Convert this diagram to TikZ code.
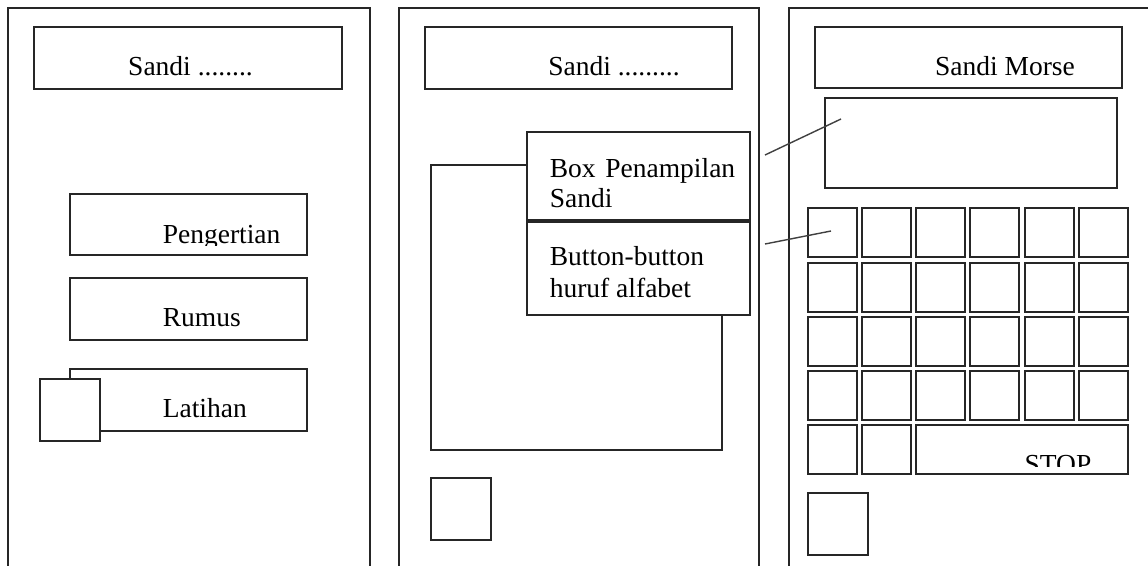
\documentclass[tikz,border=0pt]{standalone}
\usepackage{fontspec}
\setmainfont{Liberation Serif}
\usetikzlibrary{fit}
\begin{document}
\begin{tikzpicture}[x=1pt,y=-1pt,line width=1.6pt,
  frame/.style={draw=black!85},
  box/.style={draw=black!85,fill=white,inner sep=0pt,outer sep=0pt},
  lbl/.style={font=\fontsize{27.5}{31}\selectfont,inner sep=0pt,text=black},
  link/.style={draw=black!75,line width=1.4pt}]
\useasboundingbox (0,0) rectangle (1148,565);
\clip (0,0) rectangle (1148,565);

% ---------- panel frames ----------
\draw[frame] (8,600) |- (370,8) -- (370,600);
\draw[frame] (399,600) |- (759,8) -- (759,600);
\draw[frame] (789,600) |- (1160,8);

% ---------- panel 1 ----------
\node[box,fit={(34,27) (342,89)}] (t1) {};
\node[lbl,anchor=base] (t1txt) at (190.5,75) {Sandi ........};
\node[box,fit={(70,194) (307,255)}] (peng) {};
\begin{scope}
  \clip (60,190) rectangle (320,245);
  \node[lbl,anchor=base west] (pengtxt) at (162,243) {Pengertian};
\end{scope}
\node[box,fit={(70,278) (307,340)}] (rumus) {};
\node[lbl,anchor=base west] (rumustxt) at (162,326) {Rumus};
\node[box,fit={(70,369) (307,431)}] (latihan) {};
\node[lbl,anchor=base west] (latihantxt) at (162,417) {Latihan};
\node[box,fit={(40,379) (100,441)}] (back1) {};

% ---------- panel 2 ----------
\node[box,fit={(425,27) (732,89)}] (t2) {};
\node[lbl,anchor=base] (t2txt) at (614,75) {Sandi .........};
\node[box,fit={(431,165) (722,450)}] (area) {};
\node[box,fit={(527,132) (750,220)}] (boxpen) {};
\node[lbl,anchor=base west] (bp1a) at (549,177) {Box};
\node[lbl,anchor=base east] (bp1b) at (736,177) {Penampilan};
\node[lbl,anchor=base west] (bp2) at (549,207) {Sandi};
\node[box,fit={(527,222) (750,315)}] (btnbox) {};
\node[lbl,anchor=base west] (bb1) at (549,265) {Button-button};
\node[lbl,anchor=base west] (bb2) at (549,297) {huruf alfabet};
\node[box,fit={(431,478) (491,540)}] (back2) {};

% ---------- panel 3 ----------
\node[box,fit={(815,27) (1122,88)}] (t3) {};
\node[lbl,anchor=base] (t3txt) at (1005,75) {Sandi Morse};
\node[box,fit={(825,98) (1117,188)}] (display) {};
\foreach \r/\y in {1/208,2/263,3/317,4/371}{
  \foreach \c/\x in {1/808,2/862,3/916,4/970,5/1025,6/1079}{
    \node[box,fit={(\x,\y) (\x+49,\y+49)}] (k\r\c) {};
  }
}
\node[box,fit={(808,425) (857,474)}] (k51) {};
\node[box,fit={(862,425) (911,474)}] (k52) {};
\node[box,fit={(916,425) (1128,474)}] (stop) {};
\begin{scope}
  \clip (916,430) rectangle (1128,466);
  \node[lbl,anchor=base] (stoptxt) at (1058,473) {STOP};
\end{scope}
\node[box,fit={(808,493) (868,555)}] (back3) {};

% ---------- connectors ----------
\coordinate (c1a) at (765,155);
\coordinate (c1b) at (841,119);
\coordinate (c2a) at (765,244);
\coordinate (c2b) at (831,231);
\draw[link] (c1a) -- (c1b);
\draw[link] (c2a) -- (c2b);
\end{tikzpicture}
\end{document}
